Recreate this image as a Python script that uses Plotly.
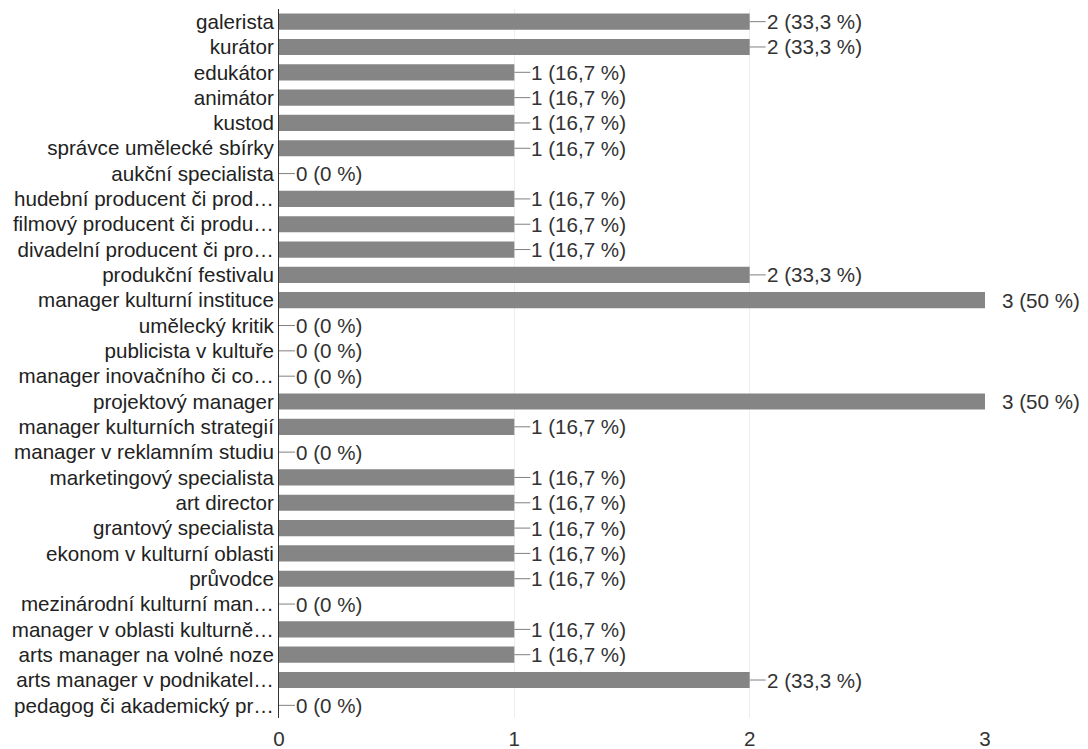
import plotly.graph_objects as go

categories = [
    "galerista", "kurátor", "edukátor", "animátor", "kustod",
    "správce umělecké sbírky", "aukční specialista",
    "hudební producent či prod…", "filmový producent či produ…",
    "divadelní producent či pro…", "produkční festivalu",
    "manager kulturní instituce", "umělecký kritik", "publicista v kultuře",
    "manager inovačního či co…", "projektový manager",
    "manager kulturních strategií", "manager v reklamním studiu",
    "marketingový specialista", "art director", "grantový specialista",
    "ekonom v kulturní oblasti", "průvodce", "mezinárodní kulturní man…",
    "manager v oblasti kulturně…", "arts manager na volné noze",
    "arts manager v podnikatel…", "pedagog či akademický pr…",
]
counts = [2, 2, 1, 1, 1, 1, 0, 1, 1, 1, 2, 3, 0, 0, 0, 3, 1, 0, 1, 1, 1, 1, 1, 0, 1, 1, 2, 0]
pct_labels = ["33,3", "33,3", "16,7", "16,7", "16,7", "16,7", "0", "16,7", "16,7", "16,7",
              "33,3", "50", "0", "0", "0", "50", "16,7", "0", "16,7", "16,7", "16,7",
              "16,7", "16,7", "0", "16,7", "16,7", "33,3", "0"]
x_ticks = [0, 1, 2, 3]

FONT = "Liberation Sans, Arial, sans-serif"
FS = 20.6

fig = go.Figure()
fig.add_trace(go.Bar(
    x=counts, y=categories, orientation="h",
    marker=dict(color="#858585", line=dict(width=0)),
    width=0.64, hoverinfo="skip",
))

max_v = max(counts)
annotations = []
for c, v, p in zip(categories, counts, pct_labels):
    txt = f"{v} ({p} %)"
    if v == max_v:
        annotations.append(dict(x=v, y=c, xref="x", yref="y", text=txt, showarrow=False,
                                xanchor="left", xshift=15,
                                font=dict(family=FONT, size=FS, color="#333333")))
    else:
        annotations.append(dict(x=v, y=c, xref="x", yref="y", text=txt, showarrow=True,
                                arrowhead=0, arrowwidth=1, arrowcolor="#808080",
                                ax=16, ay=0, xanchor="left", standoff=0, startstandoff=0,
                                borderpad=0,
                                font=dict(family=FONT, size=FS, color="#333333")))

fig.update_layout(
    width=1088, height=749,
    margin=dict(l=279, r=103, t=9, b=31, autoexpand=False),
    paper_bgcolor="white", plot_bgcolor="white",
    showlegend=False,
    annotations=annotations,
    bargap=0.36,
    xaxis=dict(range=[0, 3], tickvals=x_ticks, ticktext=[str(t) for t in x_ticks],
               showgrid=True, gridcolor="#eeeeee", gridwidth=1, zeroline=False,
               showline=False, ticks="", ticklabelstandoff=6,
               tickfont=dict(family=FONT, size=FS, color="#333333"),
               fixedrange=True),
    yaxis=dict(categoryorder="array", categoryarray=categories, autorange="reversed",
               showline=True, linecolor="#333333", linewidth=1, ticks="",
               showgrid=False, ticklabelstandoff=0,
               tickfont=dict(family=FONT, size=FS, color="#222222"),
               automargin=False, fixedrange=True),
)

fig.write_html("out.html")
